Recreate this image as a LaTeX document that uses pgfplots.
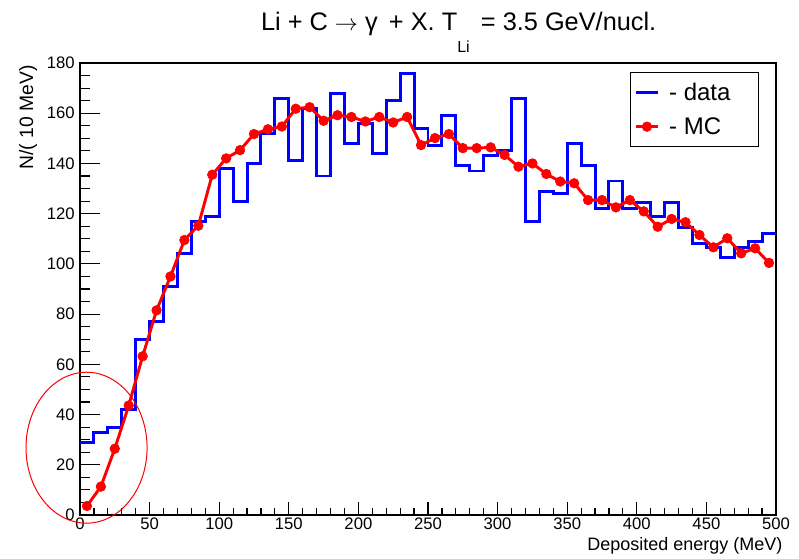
\documentclass[border=0pt]{standalone}
\usepackage{pgfplots}
\pgfplotsset{compat=1.18}
\usepackage{fontspec}
\setmainfont{Liberation Sans}
\definecolor{rootblue}{RGB}{0,0,255}
\definecolor{rootred}{RGB}{255,0,0}
\begin{document}
\begin{tikzpicture}[x=1pt,y=1pt]
\path[use as bounding box] (-60,-33) rectangle (539.25,386.25);
\begin{axis}[
  scale only axis,
  width=522pt, height=339pt,
  at={(0,0)}, anchor=south west,
  xmin=0, xmax=500, ymin=0, ymax=180,
  xtick={0,50,...,500}, ytick={0,20,...,180},
  minor x tick num=4, minor y tick num=3,
  xtick pos=lower, ytick pos=left,
  tick align=inside,
  major tick length=9.75pt, minor tick length=5.25pt,
  y tick style={/pgfplots/major tick length=15pt, /pgfplots/minor tick length=7.5pt},
  every tick/.style={black, line width=0.9pt},
  axis line style={black, line width=1.1pt},
  /pgf/number format/assume math mode=true,
  ticklabel style={font=\fontsize{12.5}{14}\selectfont},
  yticklabel style={xshift=-0.5pt},
  xticklabel style={yshift=-1pt, inner ysep=1pt},
  clip=false,
  legend style={at={(0.9756,0.98)}, anchor=north east, draw=black, line width=0.8pt,
    font=\fontsize{18}{21}\selectfont, inner xsep=3pt, inner ysep=6pt, row sep=7pt,
    legend cell align=left},
]
\addplot[const plot mark left, rootblue, line width=2.2pt, line join=miter] coordinates {
(0,29) (10,33) (20,35) (30,42) (40,70) (50,77) (60,91) (70,104) (80,117) (90,119)
(100,138) (110,125) (120,140) (130,152) (140,166) (150,141) (160,162) (170,135) (180,168) (190,148)
(200,156) (210,144) (220,165) (230,176) (240,154) (250,147) (260,159) (270,139) (280,137) (290,143)
(300,145) (310,166) (320,117) (330,129) (340,128) (350,148) (360,139) (370,122) (380,133) (390,122)
(400,124.5) (410,119) (420,124.5) (430,114.6) (440,108) (450,106.6) (460,102.6) (470,106.6) (480,109) (490,112)
(500,112)
};
\addlegendentry{\hspace{5pt}\makebox[62pt][l]{- data}}
\addplot[rootred, line width=2.2pt, mark=*, mark size=3.6pt, mark options={fill=rootred, line width=0.5pt}] coordinates {
(5,3.6) (15,11.3) (25,26.4) (35,43.6) (45,63.2) (55,81.5) (65,95) (75,109.5) (85,115.2) (95,135.5)
(105,142) (115,145.3) (125,151.7) (135,153.6) (145,154.7) (155,161.8) (165,162.4) (175,157) (185,159.2) (195,158.5)
(205,156.7) (215,158.5) (225,156.3) (235,158.5) (245,147.3) (255,150.1) (265,151.7) (275,146.1) (285,146.1) (295,146.4)
(305,143.4) (315,138.7) (325,140) (335,135.8) (345,132.8) (355,132.1) (365,125.4) (375,125.4) (385,122.5) (395,125.4)
(405,120.9) (415,114.8) (425,117.9) (435,116.6) (445,111.5) (455,106.6) (465,110.2) (475,104.2) (485,106.2) (495,100.4)
};
\addlegendentry{\hspace{5pt}\makebox[62pt][l]{- MC}}
\draw[rootred, line width=0.75pt] (axis cs:4.7,26.8) ellipse [x radius=45.4pt, y radius=56.6pt];
\end{axis}
\node[anchor=base, font=\fontsize{19}{22}\selectfont] at (284,363) {Li + C $\rightarrow$ γ \,+ X. T\raisebox{-0.85em}{\fontsize{12}{12}\selectfont Li}\, = 3.5 GeV/nucl.};
\node[anchor=base east, font=\fontsize{13.5}{15}\selectfont, inner sep=0pt] at (527,-26.5) {Deposited energy (MeV)};
\node[anchor=east, rotate=90, font=\fontsize{14.5}{16}\selectfont, inner sep=0pt] at (-39,337.5) {N/( 10 MeV)};
\end{tikzpicture}
\end{document}
